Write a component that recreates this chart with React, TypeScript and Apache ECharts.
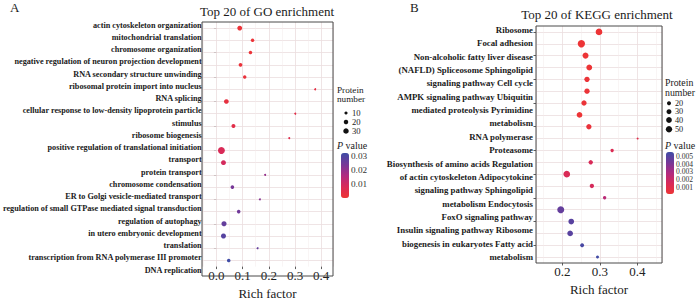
import React, { useEffect, useRef } from "react";
import * as echarts from "echarts";

// ---------------- Panel A : GO ----------------
const goLabels = [
  "actin cytoskeleton organization",
  "mitochondrial translation",
  "chromosome organization",
  "negative regulation of neuron projection development",
  "RNA secondary structure unwinding",
  "ribosomal protein import into nucleus",
  "RNA splicing",
  "cellular response to low-density lipoprotein particle",
  "stimulus",
  "ribosome biogenesis",
  "positive regulation of translational initiation",
  "transport",
  "protein transport",
  "chromosome condensation",
  "ER to Golgi vesicle-mediated transport",
  "regulation of small GTPase mediated signal transduction",
  "regulation of autophagy",
  "in utero embryonic development",
  "translation",
  "transcription from RNA polymerase III promoter",
  "DNA replication",
];
const goTerms = [
  "actin cytoskeleton organization",
  "mitochondrial translation",
  "chromosome organization",
  "negative regulation of neuron projection development",
  "RNA secondary structure unwinding",
  "ribosomal protein import into nucleus",
  "RNA splicing",
  "cellular response to low-density lipoprotein particle stimulus",
  "ribosome biogenesis",
  "positive regulation of translational initiation",
  "transport",
  "protein transport",
  "chromosome condensation",
  "ER to Golgi vesicle-mediated transport",
  "regulation of small GTPase mediated signal transduction",
  "regulation of autophagy",
  "in utero embryonic development",
  "translation",
  "transcription from RNA polymerase III promoter",
  "DNA replication",
];
const goRichFactor = [0.089, 0.138, 0.13, 0.092, 0.108, 0.377, 0.038, 0.301, 0.065, 0.278, 0.019, 0.027, 0.186, 0.061, 0.166, 0.085, 0.029, 0.027, 0.157, 0.047];
const goProteinNumber = [24, 12, 12, 14, 12, 4, 22, 4, 16, 4, 48, 24, 4, 13, 4, 13, 26, 26, 4, 13];
const goPValue = [0.001, 0.001, 0.0012, 0.0015, 0.002, 0.004, 0.003, 0.005, 0.005, 0.006, 0.008, 0.009, 0.02, 0.024, 0.022, 0.025, 0.027, 0.029, 0.027, 0.0325];
const goSizeBreaks = [10, 20, 30];
const goPBreaks = [0.03, 0.02, 0.01];
const goPRange = [0.0002, 0.0325];
const goXRange = [-0.055, 0.445];
const goMinorBreaks = [-0.05, 0.05, 0.15, 0.25, 0.35];

// ---------------- Panel B : KEGG ----------------
const keggLabels = [
  "Ribosome",
  "Focal adhesion",
  "Non-alcoholic fatty liver disease",
  "(NAFLD) Spliceosome Sphingolipid",
  "signaling pathway Cell cycle",
  "AMPK signaling pathway Ubiquitin",
  "mediated proteolysis Pyrimidine",
  "metabolism",
  "RNA polymerase",
  "Proteasome",
  "Biosynthesis of amino acids Regulation",
  "of actin cytoskeleton Adipocytokine",
  "signaling pathway Sphingolipid",
  "metabolism Endocytosis",
  "FoxO signaling pathway",
  "Insulin signaling pathway Ribosome",
  "biogenesis in eukaryotes Fatty acid",
  "metabolism",
];
const keggTerms = [
  "Ribosome",
  "Focal adhesion",
  "Non-alcoholic fatty liver disease (NAFLD)",
  "Spliceosome",
  "Sphingolipid signaling pathway",
  "Cell cycle",
  "AMPK signaling pathway",
  "Ubiquitin mediated proteolysis",
  "Pyrimidine metabolism",
  "RNA polymerase",
  "Proteasome",
  "Biosynthesis of amino acids",
  "Regulation of actin cytoskeleton",
  "Adipocytokine signaling pathway",
  "Sphingolipid metabolism",
  "Endocytosis",
  "FoxO signaling pathway",
  "Insulin signaling pathway",
  "Ribosome biogenesis in eukaryotes",
  "Fatty acid metabolism",
];
const keggRichFactor = [0.298, 0.251, 0.262, 0.272, 0.266, 0.266, 0.258, 0.246, 0.271, 0.401, 0.333, 0.276, 0.212, 0.279, 0.313, 0.196, 0.224, 0.221, 0.253, 0.294];
const keggProteinNumber = [55, 66, 44, 42, 35, 35, 35, 40, 35, 5, 14, 23, 55, 23, 14, 60, 40, 40, 18, 11];
const keggPValue = [0.0002, 0.0002, 0.0002, 0.0002, 0.0003, 0.0003, 0.0003, 0.0002, 0.0004, 0.001, 0.0013, 0.0015, 0.0014, 0.0016, 0.0025, 0.0046, 0.0049, 0.0049, 0.0053, 0.0055];
const keggSizeBreaks = [20, 30, 40, 50];
const keggPBreaks = [0.005, 0.004, 0.003, 0.002, 0.001];
const keggPRange = [0.00014, 0.00555];
const keggXRange = [0.13, 0.466];
const keggMinorBreaks = [0.15, 0.25, 0.35, 0.45];

// ---------------- styles / layout ----------------
const serif = "Liberation Serif, Times New Roman, serif";
const ink = "#1a1a1a";
const gridMajor = "#EBDDDE";
const gridMinor = "#F3EAEB";
const pColors = ["#EE3434", "#D82A58", "#B02A80", "#743898", "#3F4CA6"];
const sizeA = (n: number) => Math.sqrt(n) * 1.0;
const sizeB = (n: number) => Math.sqrt(n) * 0.9;

const LA = { left: 202, top: 22, width: 131, height: 254, labTop: 25, labBottom: 270 };
const LB = { left: 536, top: 26, width: 126, height: 237, labTop: 30, labBottom: 257 };
const CBA = { left: 341, top: 153, w: 8, h: 45 };
const CBB = { left: 666, top: 152, w: 8, h: 42 };

function scatterSeries(idx: number, terms: string[], rich: number[], count: number[], p: number[], sizeFn: (n: number) => number, minor: number[]) {
  return {
    type: "scatter",
    xAxisIndex: idx,
    yAxisIndex: idx,
    data: terms.map((t, i) => [rich[i], t, count[i], p[i]]),
    symbolSize: (v: any) => sizeFn(v[2]),
    itemStyle: { opacity: 1 },
    z: 3,
    silent: true,
    markLine: {
      silent: true,
      symbol: ["none", "none"],
      z: 1,
      animation: false,
      label: { show: false },
      emphasis: { disabled: true },
      data: [
        ...terms.map((t) => ({ yAxis: t, lineStyle: { color: gridMajor, width: 0.8, type: "solid" } })),
        ...minor.map((x) => ({ xAxis: x, lineStyle: { color: gridMinor, width: 0.5, type: "solid" } })),
      ],
    },
  };
}

function dataXAxis(gridIndex: number, range: number[], splitNumber: number, margin: number, nameGap: number) {
  return {
    type: "value",
    gridIndex,
    min: range[0],
    max: range[1],
    splitNumber,
    name: "Rich factor",
    nameLocation: "middle",
    nameGap,
    nameTextStyle: { fontFamily: serif, fontSize: 13, color: ink },
    axisLine: { show: false },
    axisTick: { show: true, length: 2.5, lineStyle: { color: "#333", width: 0.8 } },
    axisLabel: {
      show: true,
      fontFamily: serif,
      fontSize: 13,
      color: "#222",
      margin,
      showMinLabel: false,
      showMaxLabel: false,
      formatter: (v: number) => v.toFixed(1),
    },
    splitLine: { show: true, lineStyle: { color: gridMajor, width: 0.8 } },
  };
}

function dataYAxis(gridIndex: number, terms: string[]) {
  return {
    type: "category",
    gridIndex,
    data: terms,
    inverse: true,
    boundaryGap: true,
    axisLine: { show: false },
    axisLabel: { show: false },
    axisTick: { show: true, alignWithLabel: true, length: 2.5, lineStyle: { color: "#333", width: 0.8 } },
    splitLine: { show: false },
  };
}

function labelYAxis(gridIndex: number, labels: string[], fontSize: number, margin: number) {
  return {
    type: "category",
    gridIndex,
    data: labels,
    inverse: true,
    boundaryGap: false,
    axisLine: { show: false },
    axisTick: { show: false },
    splitLine: { show: false },
    axisLabel: { show: true, interval: 0, fontFamily: serif, fontWeight: "bold", fontSize, color: ink, margin },
  };
}

function sizeLegend(x: number, textX: number, ys: number[], breaks: number[], sizeFn: (n: number) => number, fontSize: number) {
  const out: any[] = [];
  breaks.forEach((b, i) => {
    out.push({ type: "circle", silent: true, shape: { cx: x, cy: ys[i], r: sizeFn(b) / 2 }, style: { fill: "#111" } });
    out.push({
      type: "text",
      silent: true,
      x: textX,
      y: ys[i],
      style: { text: String(b), fontFamily: serif, fontSize, fill: ink, align: "left", verticalAlign: "middle" },
    });
  });
  return out;
}

function colorbarLabels(cb: { left: number; top: number; w: number; h: number }, range: number[], breaks: number[], fontSize: number) {
  return breaks.map((v) => ({
    type: "text",
    silent: true,
    x: cb.left + cb.w + 2,
    y: cb.top + ((range[1] - v) / (range[1] - range[0])) * cb.h,
    style: { text: String(v), fontFamily: serif, fontSize, fill: "#333", align: "left", verticalAlign: "middle" },
  }));
}

function txt(x: number, y: number, text: string, fontSize: number, align = "left", extra: any = {}) {
  return {
    type: "text",
    silent: true,
    x,
    y,
    style: { text, fontFamily: serif, fontSize, fill: ink, align, verticalAlign: "middle", ...extra },
  };
}

function pValueTitle(x: number, y: number) {
  return {
    type: "text",
    silent: true,
    x,
    y,
    style: {
      text: "{i|P} value",
      fontFamily: serif,
      fontSize: 10,
      fill: ink,
      verticalAlign: "middle",
      rich: {
        i: { fontStyle: "italic", fontFamily: serif, fontSize: 10, fill: ink },
        n: { fontFamily: serif, fontSize: 10, fill: ink },
      },
    },
  };
}

export default function App() {
  const ref = useRef<HTMLDivElement>(null);
  useEffect(() => {
    if (!ref.current) return;
    const chart = echarts.init(ref.current, undefined, { renderer: "svg" });
    const option: any = {
      animation: false,
      backgroundColor: "#fff",
      textStyle: { fontFamily: serif },
      grid: [
        { left: LA.left, top: LA.top, width: LA.width, height: LA.height },
        { left: LA.left, top: LA.labTop, width: LA.width, height: LA.labBottom - LA.labTop },
        { left: LB.left, top: LB.top, width: LB.width, height: LB.height },
        { left: LB.left, top: LB.labTop, width: LB.width, height: LB.labBottom - LB.labTop },
      ],
      xAxis: [
        dataXAxis(0, goXRange, 5, 2.5, 14.5),
        { type: "value", gridIndex: 1, show: false },
        dataXAxis(2, keggXRange, 3, 2, 17),
        { type: "value", gridIndex: 3, show: false },
      ],
      yAxis: [
        dataYAxis(0, goTerms),
        labelYAxis(1, goLabels, 8.2, 3),
        dataYAxis(2, keggTerms),
        labelYAxis(3, keggLabels, 8.8, 3),
      ],
      visualMap: [
        {
          type: "continuous",
          seriesIndex: 0,
          dimension: 3,
          min: goPRange[0],
          max: goPRange[1],
          inRange: { color: pColors },
          left: CBA.left,
          top: CBA.top,
          itemWidth: CBA.w,
          itemHeight: CBA.h,
          padding: 0,
          calculable: false,
          hoverLink: false,
        },
        {
          type: "continuous",
          seriesIndex: 2,
          dimension: 3,
          min: keggPRange[0],
          max: keggPRange[1],
          inRange: { color: pColors },
          left: CBB.left,
          top: CBB.top,
          itemWidth: CBB.w,
          itemHeight: CBB.h,
          padding: 0,
          calculable: false,
          hoverLink: false,
        },
      ],
      series: [
        scatterSeries(0, goTerms, goRichFactor, goProteinNumber, goPValue, sizeA, goMinorBreaks),
        { type: "scatter", xAxisIndex: 1, yAxisIndex: 1, data: [] },
        scatterSeries(2, keggTerms, keggRichFactor, keggProteinNumber, keggPValue, sizeB, keggMinorBreaks),
        { type: "scatter", xAxisIndex: 3, yAxisIndex: 3, data: [] },
      ],
      graphic: [
        {
          type: "rect",
          silent: true,
          z: 100,
          shape: { x: LA.left, y: LA.top, width: LA.width, height: LA.height },
          style: { fill: "none", stroke: "#4a4a4a", lineWidth: 1 },
        },
        {
          type: "rect",
          silent: true,
          z: 100,
          shape: { x: LB.left, y: LB.top, width: LB.width, height: LB.height },
          style: { fill: "none", stroke: "#4a4a4a", lineWidth: 1 },
        },
        txt(10, 7, "A", 13),
        txt(410, 7, "B", 13),
        txt(267, 11, "Top 20 of GO enrichment", 13, "center"),
        txt(597, 14, "Top 20 of KEGG enrichment", 13, "center"),
        txt(337, 90, "Protein", 9.2),
        txt(337, 99.3, "number", 9.2),
        txt(665, 82.7, "Protein", 9.8),
        txt(665, 92.7, "number", 9.8),
        pValueTitle(337, 145),
        pValueTitle(665, 145.7),
        ...sizeLegend(346, 352, [113, 122, 131], goSizeBreaks, sizeA, 8.6),
        ...sizeLegend(669, 675, [103.3, 111.7, 120, 129.3], keggSizeBreaks, sizeB, 8.2),
        ...colorbarLabels(CBA, goPRange, goPBreaks, 9.2),
        ...colorbarLabels(CBB, keggPRange, keggPBreaks, 7.6),
      ],
    };
    chart.setOption(option);
    return () => chart.dispose();
  }, []);
  return <div ref={ref} style={{ position: "absolute", left: 0, top: 0, width: 700, height: 305 }} />;
}
